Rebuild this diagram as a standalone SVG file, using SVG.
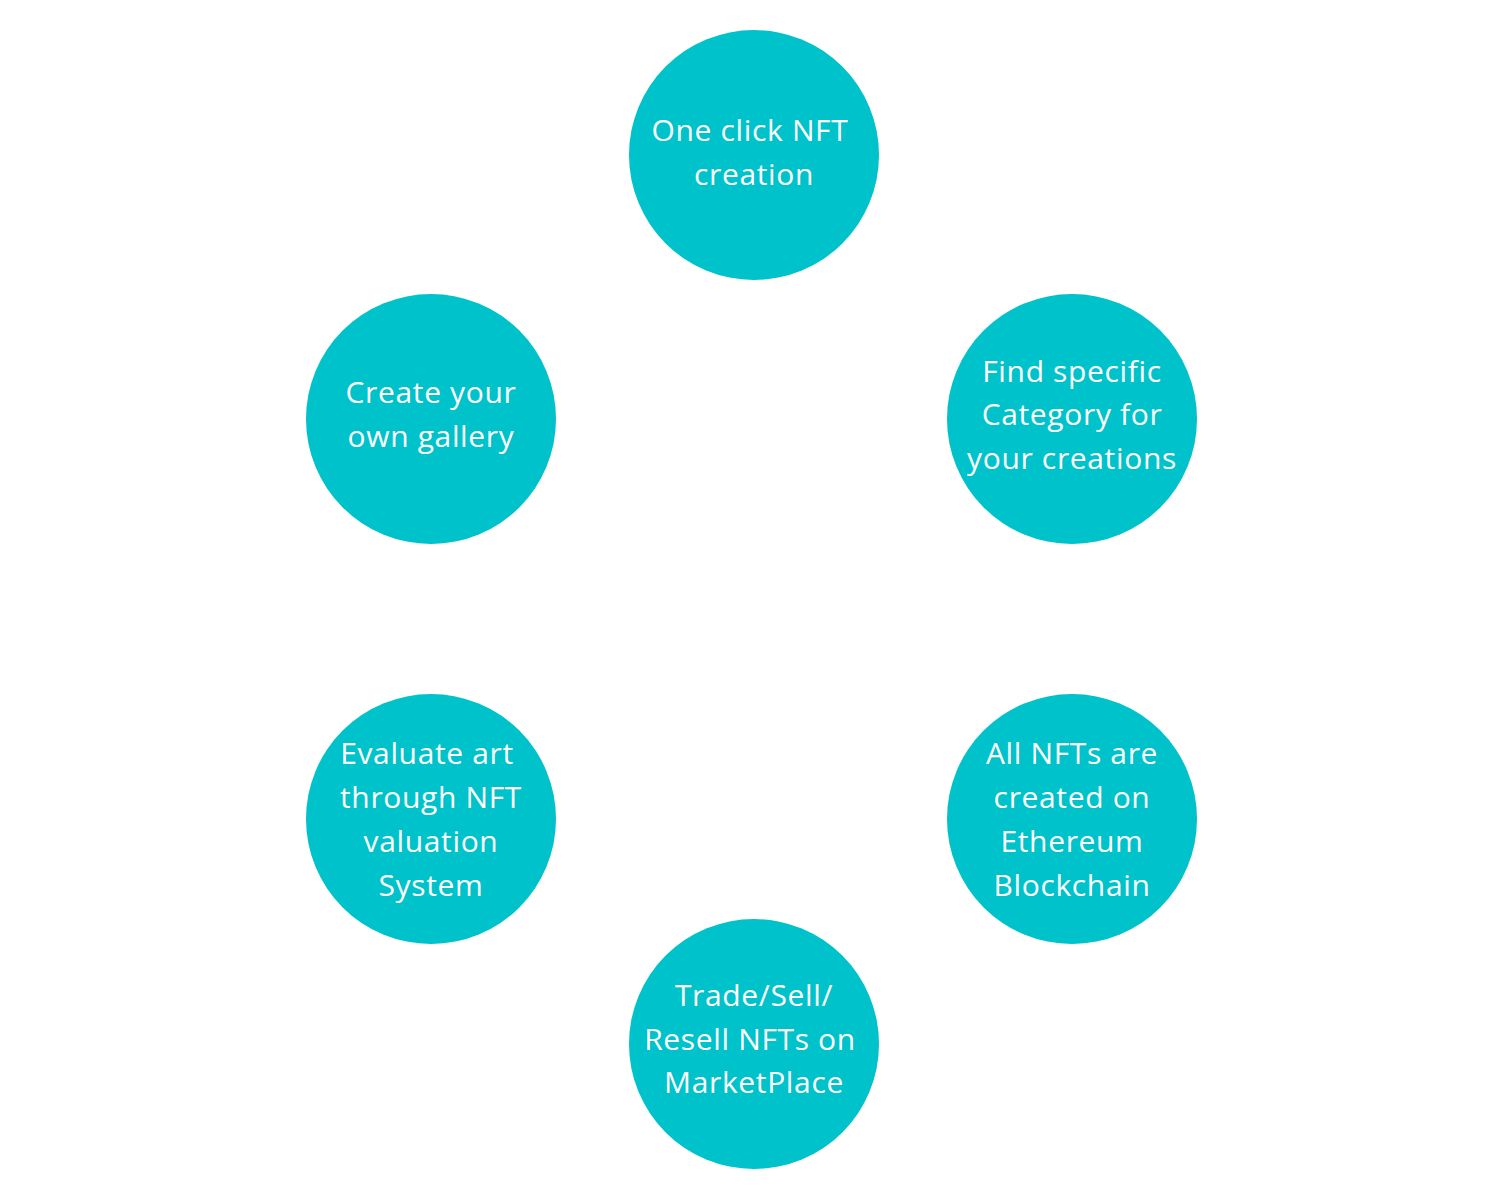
<svg xmlns="http://www.w3.org/2000/svg" width="1500" height="1200" viewBox="0 0 1500 1200">
<style>
.c{fill:#00C2CB}
.t{fill:#ffffff;font-family:"Open Sans","Noto Sans",sans-serif;font-size:30px;letter-spacing:0.65px;text-anchor:middle}
</style>
<rect width="1500" height="1200" fill="#ffffff"/>
<g id="connectors"></g>
<g id="node-top">
<circle class="c" cx="754" cy="155" r="125"/>
<text class="t"><tspan x="750" y="141">One click NFT</tspan><tspan x="754" y="185">creation</tspan></text>
</g>
<g id="node-upper-left">
<circle class="c" cx="431" cy="419" r="125"/>
<text class="t"><tspan x="431" y="403">Create your</tspan><tspan x="431" y="447">own gallery</tspan></text>
</g>
<g id="node-upper-right">
<circle class="c" cx="1072" cy="419" r="125"/>
<text class="t"><tspan x="1072" y="382">Find specific</tspan><tspan x="1072" y="425">Category for</tspan><tspan x="1072" y="469">your creations</tspan></text>
</g>
<g id="node-lower-left">
<circle class="c" cx="431" cy="819" r="125"/>
<text class="t"><tspan x="427" y="764">Evaluate art</tspan><tspan x="431" y="808">through NFT</tspan><tspan x="431" y="852">valuation</tspan><tspan x="431" y="896">System</tspan></text>
</g>
<g id="node-lower-right">
<circle class="c" cx="1072" cy="819" r="125"/>
<text class="t"><tspan x="1072" y="764">All NFTs are</tspan><tspan x="1072" y="808">created on</tspan><tspan x="1072" y="852">Ethereum</tspan><tspan x="1072" y="896">Blockchain</tspan></text>
</g>
<g id="node-bottom">
<circle class="c" cx="754" cy="1044" r="125"/>
<text class="t"><tspan x="754" y="1006">Trade/Sell/</tspan><tspan x="750" y="1050">Resell NFTs on</tspan><tspan x="754" y="1093">MarketPlace</tspan></text>
</g>
</svg>
